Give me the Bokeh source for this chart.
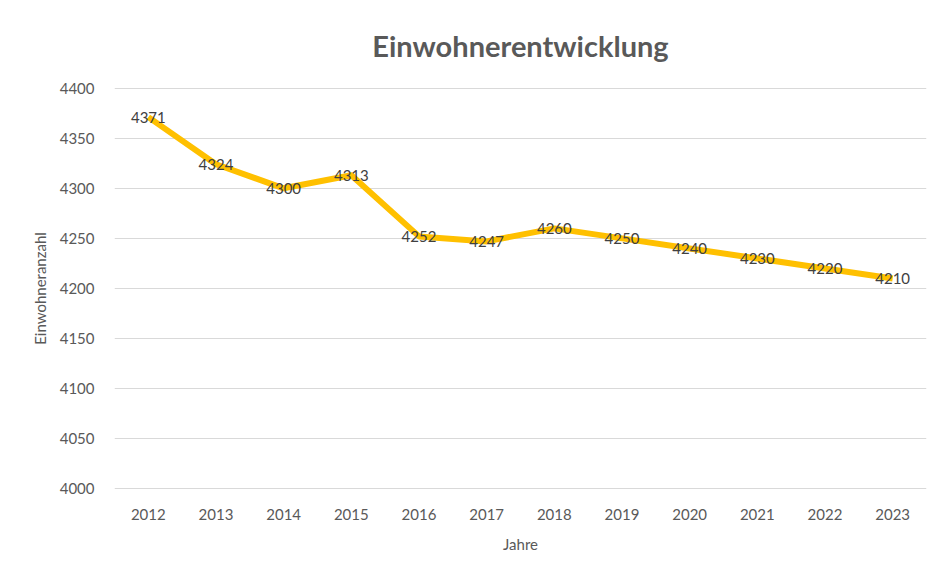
from bokeh.plotting import figure
from bokeh.models import ColumnDataSource, FactorRange, Range1d, SingleIntervalTicker
from bokeh.embed import file_html
from bokeh.resources import INLINE
from bokeh.core.properties import value

years = ["2012", "2013", "2014", "2015", "2016", "2017", "2018", "2019", "2020", "2021", "2022", "2023"]
population = [4371, 4324, 4300, 4313, 4252, 4247, 4260, 4250, 4240, 4230, 4220, 4210]
labels = [str(v) for v in population]

FONT = "Lato"
src = ColumnDataSource(dict(x=years, y=population, lab=labels))

p = figure(width=927, height=565, x_range=FactorRange(*years, range_padding=0),
           y_range=Range1d(3999.4, 4400.6), output_backend="svg", toolbar_location=None,
           title="Einwohnerentwicklung",
           min_border_left=114, min_border_right=1, min_border_top=87, min_border_bottom=76)

p.title.align = "center"
p.title.text_font = FONT
p.title.text_font_size = "29px"
p.title.text_font_style = "bold"
p.title.text_color = "#595959"
p.title.standoff = 49

p.outline_line_color = None
p.border_fill_color = "white"
p.background_fill_color = "white"

p.line("x", "y", source=src, line_color="#FFC000", line_width=6, line_join="round")
p.text("x", "y", text="lab", source=src, text_align="center", text_baseline="middle",
       text_font=value(FONT), text_font_size="15px", text_color="#404040")

p.yaxis.ticker = SingleIntervalTicker(interval=50)
for ax in (p.xaxis[0], p.yaxis[0]):
    ax.axis_line_color = None
    ax.major_tick_line_color = None
    ax.minor_tick_line_color = None
    ax.major_label_text_font = FONT
    ax.major_label_text_font_size = "15px"
    ax.major_label_text_color = "#595959"
    ax.axis_label_text_font = FONT
    ax.axis_label_text_font_size = "15px"
    ax.axis_label_text_font_style = "normal"
    ax.axis_label_text_color = "#595959"

p.xaxis.axis_label = "Jahre"
p.yaxis.axis_label = "Einwohneranzahl"
p.xaxis.major_label_standoff = 13
p.yaxis.major_label_standoff = 14
p.xaxis.axis_label_standoff = 12
p.yaxis.axis_label_standoff = 8

p.xgrid.grid_line_color = None
p.ygrid.grid_line_color = "#d9d9d9"
p.ygrid.grid_line_width = 1

open("out.html", "w").write(file_html(p, INLINE))
